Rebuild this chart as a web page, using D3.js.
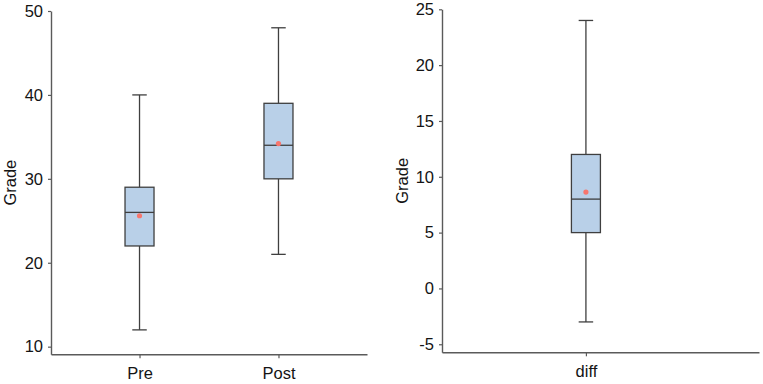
<!DOCTYPE html>
<html><head><meta charset="utf-8">
<script src="https://cdn.jsdelivr.net/npm/d3@7"></script>
<style>
html,body{margin:0;padding:0;background:#fff;}
svg{display:block;font-family:"Liberation Sans",Arial,sans-serif;}
</style></head>
<body>
<script>
// Left panel data
const leftCategories = ["Pre", "Post"];
const leftMin = [12, 21];
const leftQ1 = [22, 30];
const leftMedian = [26, 34];
const leftQ3 = [29, 39];
const leftMax = [40, 48];
const leftMean = [25.6, 34.2];
const leftTicks = [10, 20, 30, 40, 50];

// Right panel data
const rightCategories = ["diff"];
const rightMin = [-3];
const rightQ1 = [5];
const rightMedian = [8];
const rightQ3 = [12];
const rightMax = [24];
const rightMean = [8.63];
const rightTicks = [-5, 0, 5, 10, 15, 20, 25];

const yLabel = "Grade";

const W = 763, H = 384;
const svg = d3.select("body").append("svg").attr("width", W).attr("height", H);

const axisColor = "#5a5a5a";
const textColor = "#141414";
const boxFill = "#b9d0e8";
const boxStroke = "#3f3f3f";
const meanColor = "#f8766d";

function panel(cfg) {
  const g = svg.append("g");
  const x = d3.scalePoint().domain(cfg.cats).range([cfg.x0, cfg.x1])
    .padding(cfg.padding).align(cfg.align);
  const y = d3.scaleLinear().domain(cfg.ydom).range([cfg.yBottom, cfg.yTop]);

  // y axis
  const ya = g.append("g").attr("transform", `translate(${cfg.x0},0)`)
    .call(d3.axisLeft(y).tickValues(cfg.ticks).tickSize(3).tickSizeOuter(0).tickPadding(5).tickFormat(d => String(d)));
  // x axis
  const xa = g.append("g").attr("transform", `translate(0,${cfg.yBottom})`)
    .call(d3.axisBottom(x).tickSize(4).tickSizeOuter(0).tickPadding(9));
  [ya, xa].forEach(a => {
    a.select(".domain").attr("stroke", axisColor).attr("stroke-width", 1.4);
    a.selectAll(".tick line").attr("stroke", axisColor).attr("stroke-width", 1.2);
    a.selectAll(".tick text").attr("fill", textColor).style("font-size", "16.5px");
  });

  // y label
  g.append("text")
    .attr("transform", `translate(${cfg.labelX},${(cfg.yTop + cfg.yBottom) / 2}) rotate(-90)`)
    .attr("text-anchor", "middle").attr("dy", "0.35em")
    .attr("fill", textColor).style("font-size", "16.5px").text(yLabel);

  const bw = 29, cw = 14.5;
  const data = cfg.cats.map((c, i) => ({c, min: cfg.min[i], q1: cfg.q1[i], med: cfg.med[i], q3: cfg.q3[i], max: cfg.max[i], mean: cfg.mean[i]}));
  const b = g.selectAll("g.box").data(data).enter().append("g").attr("class", "box");
  // whiskers
  b.append("line").attr("x1", d => x(d.c)).attr("x2", d => x(d.c))
    .attr("y1", d => y(d.max)).attr("y2", d => y(d.q3))
    .attr("stroke", boxStroke).attr("stroke-width", 1.3);
  b.append("line").attr("x1", d => x(d.c)).attr("x2", d => x(d.c))
    .attr("y1", d => y(d.q1)).attr("y2", d => y(d.min))
    .attr("stroke", boxStroke).attr("stroke-width", 1.3);
  b.append("line").attr("x1", d => x(d.c) - cw / 2).attr("x2", d => x(d.c) + cw / 2)
    .attr("y1", d => y(d.max)).attr("y2", d => y(d.max))
    .attr("stroke", boxStroke).attr("stroke-width", 1.3);
  b.append("line").attr("x1", d => x(d.c) - cw / 2).attr("x2", d => x(d.c) + cw / 2)
    .attr("y1", d => y(d.min)).attr("y2", d => y(d.min))
    .attr("stroke", boxStroke).attr("stroke-width", 1.3);
  // box
  b.append("rect").attr("x", d => x(d.c) - bw / 2).attr("width", bw)
    .attr("y", d => y(d.q3)).attr("height", d => y(d.q1) - y(d.q3))
    .attr("fill", boxFill).attr("stroke", boxStroke).attr("stroke-width", 1.3);
  // median
  b.append("line").attr("x1", d => x(d.c) - bw / 2).attr("x2", d => x(d.c) + bw / 2)
    .attr("y1", d => y(d.med)).attr("y2", d => y(d.med))
    .attr("stroke", boxStroke).attr("stroke-width", 1.3);
  // mean
  b.append("circle").attr("cx", d => x(d.c)).attr("cy", d => y(d.mean))
    .attr("r", 2.6).attr("fill", meanColor);
}

panel({
  cats: leftCategories, min: leftMin, q1: leftQ1, med: leftMedian, q3: leftQ3, max: leftMax, mean: leftMean,
  ticks: leftTicks, ydom: [9.09, 50], yBottom: 354.3, yTop: 11,
  x0: 51, x1: 367, padding: 0.637, align: 0.5, labelX: 10
});
panel({
  cats: rightCategories, min: rightMin, q1: rightQ1, med: rightMedian, q3: rightQ3, max: rightMax, mean: rightMean,
  ticks: rightTicks, ydom: [-5.72, 25], yBottom: 352.3, yTop: 9.3,
  x0: 442, x1: 759, padding: 0.5, align: 0.454, labelX: 402
});
</script>
</body></html>
